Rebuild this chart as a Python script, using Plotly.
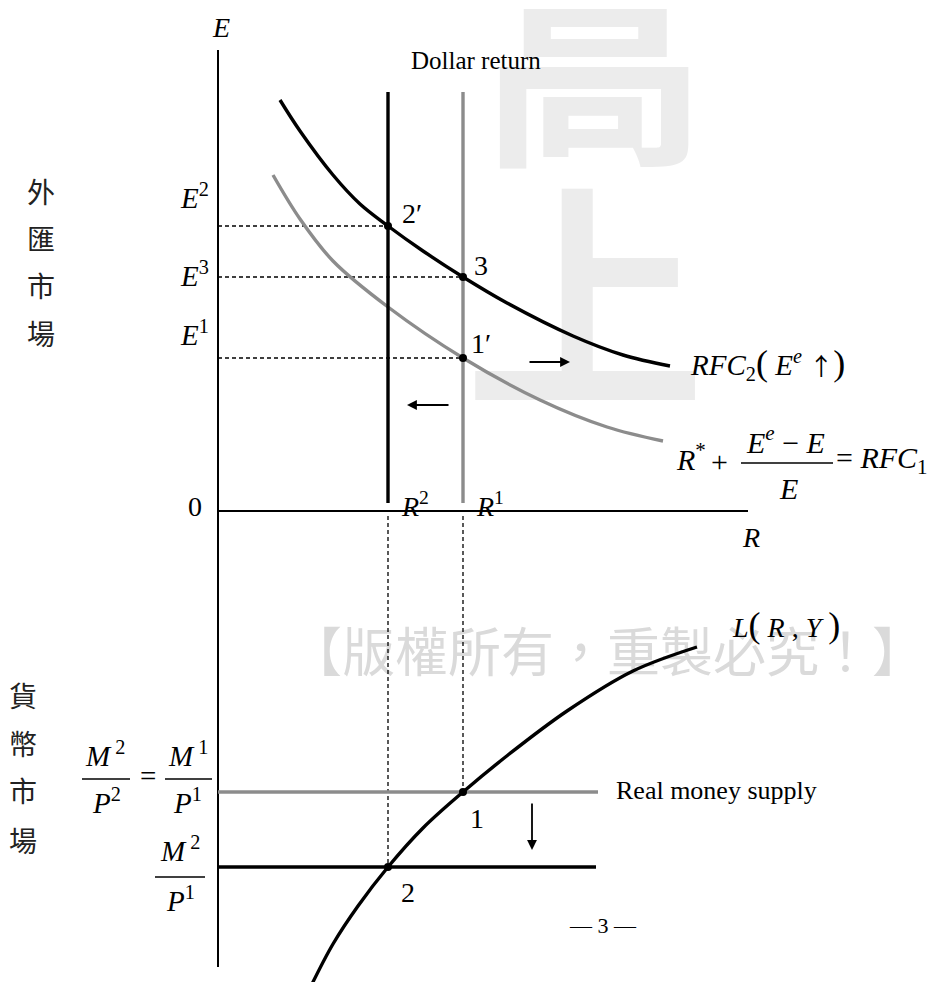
import plotly.graph_objects as go

# ---------------- data (model units) ----------------
# x : interest rate R ; y : exchange rate E (upper panel, positive)
#     and real money (lower panel, drawn downward as negative values)
R2, R1 = 1.70, 2.45                 # dollar returns
E2, E3, E1 = 2.85, 2.34, 1.53       # exchange rate levels
M1P1, M2P1 = -2.81, -3.56           # real money supply levels

rfc2_R = [0.62, 0.82, 1.15, 1.42, 1.70, 2.05, 2.45, 2.89, 3.55, 4.05, 4.52]
rfc2_E = [4.11, 3.80, 3.36, 3.07, 2.85, 2.60, 2.34, 2.08, 1.75, 1.56, 1.45]

rfc1_R = [0.55, 0.82, 1.15, 1.70, 2.45, 3.22, 3.89, 4.45]
rfc1_E = [3.36, 2.92, 2.50, 2.04, 1.53, 1.11, 0.84, 0.70]

L_R = [0.93, 1.15, 1.40, 1.70, 2.05, 2.45, 2.90, 3.49, 4.15, 4.79]
L_M = [-4.75, -4.33, -3.95, -3.56, -3.17, -2.81, -2.44, -2.00, -1.60, -1.36]

return_top, return_bottom = 4.19, 0.08
supply_end = [3.80, 3.78]           # right ends of M1/P1 and M2/P1 lines
axis_E_top, axis_M_bottom, axis_R_end = 4.61, -4.56, 5.30

points_R = [R2, R1, R1, R1, R2]
points_y = [E2, E3, E1, M1P1, M2P1]

# shift arrows: (tail_x, tail_y, head_x, head_y)
shift_arrows = [(3.10, 1.49, 3.52, 1.49),
                (2.32, 1.06, 1.89, 1.06),
                (3.14, -2.91, 3.14, -3.39)]

# ---------------- figure ----------------
W, H = 937, 982
PAGE = 8              # default body margin of the html page
X0, Y0 = 218, 511     # screen pixel position of the origin


def P(px, py):
    """screen pixel -> model units"""
    return (px - X0) / 100.0, (Y0 - py) / 100.0


BLACK = "#000000"
GRAY = "#8c8c8c"
SERIF = "Liberation Serif"
CJK = "Noto Sans CJK TC"

fig = go.Figure()

# watermarks (behind everything)
for ch, (px, py), size, col, wt in [
    ("高", (594, 92), 225, "#ececec", "bold"),
    ("上", (585, 330), 240, "#ececec", "bold"),
    ("【版權所有，重製必究！】", (607, 659), 53, "#dadada", "normal"),
]:
    x, y = P(px, py)
    fig.add_trace(go.Scatter(x=[x], y=[y], mode="text", text=[ch],
                             textposition="middle center", cliponaxis=False,
                             textfont=dict(family=CJK, size=size, color=col, weight=wt),
                             hoverinfo="skip"))

# axes
fig.add_trace(go.Scatter(x=[0, 0], y=[axis_E_top, axis_M_bottom], mode="lines",
                         line=dict(color=BLACK, width=2)))
fig.add_trace(go.Scatter(x=[0, axis_R_end], y=[0, 0], mode="lines",
                         line=dict(color=BLACK, width=2)))

# dashed guides
dash = dict(color=BLACK, width=1.3, dash="4px,3px")
for e, r in [(E2, R2), (E3, R1), (E1, R1)]:
    fig.add_trace(go.Scatter(x=[0, r], y=[e, e], mode="lines", line=dash))
for r, m in [(R2, M2P1), (R1, M1P1)]:
    fig.add_trace(go.Scatter(x=[r, r], y=[-0.05, m], mode="lines", line=dash))

# RFC curves
fig.add_trace(go.Scatter(x=rfc1_R, y=rfc1_E, mode="lines", line_shape="spline",
                         line=dict(color=GRAY, width=3.4)))
fig.add_trace(go.Scatter(x=rfc2_R, y=rfc2_E, mode="lines", line_shape="spline",
                         line=dict(color=BLACK, width=3.4)))

# dollar return verticals
fig.add_trace(go.Scatter(x=[R1, R1], y=[return_bottom, return_top], mode="lines",
                         line=dict(color=GRAY, width=3.4)))
fig.add_trace(go.Scatter(x=[R2, R2], y=[return_bottom, return_top], mode="lines",
                         line=dict(color=BLACK, width=3.4)))

# real money supply
fig.add_trace(go.Scatter(x=[0, supply_end[0]], y=[M1P1, M1P1], mode="lines",
                         line=dict(color=GRAY, width=3.4)))
fig.add_trace(go.Scatter(x=[0, supply_end[1]], y=[M2P1, M2P1], mode="lines",
                         line=dict(color=BLACK, width=3.4)))

# money demand
fig.add_trace(go.Scatter(x=L_R, y=L_M, mode="lines", line_shape="spline",
                         line=dict(color=BLACK, width=3.4)))

# equilibrium points
fig.add_trace(go.Scatter(x=points_R, y=points_y, mode="markers",
                         marker=dict(color=BLACK, size=8)))

# arrows
for tx, ty, hx, hy in shift_arrows:
    fig.add_annotation(x=hx, y=hy, ax=tx, ay=ty, axref="x", ayref="y",
                       xref="x", yref="y", text="", showarrow=True,
                       arrowhead=2, arrowsize=1.1, arrowwidth=1.8,
                       arrowcolor=BLACK)


def lab(px, py, text, size=26, xanchor="center", family=SERIF, color=BLACK):
    x, y = P(px, py)
    fig.add_annotation(x=x, y=y, text=text, showarrow=False, xanchor=xanchor,
                       yanchor="middle", font=dict(family=family, size=size, color=color))


def bar(px0, px1, py, width=1.5):
    x0, y0 = P(px0, py)
    x1, _ = P(px1, py)
    fig.add_shape(type="line", x0=x0, x1=x1, y0=y0, y1=y0, xref="x", yref="y",
                  line=dict(color=BLACK, width=width))


BIG = "<span style='font-size:36px'>%s</span>"
ARROW_UP = "<span style='font-family:Noto Sans CJK TC;font-size:24px'>↑</span>"

# upper panel labels
lab(221, 27, "<i>E</i>", 28)
lab(476, 60, "Dollar return", 25)
lab(412, 213, "2′", 28)
lab(481, 265, "3", 28)
lab(481, 343, "1′", 28)
lab(211, 196, "<i>E</i><sup>2</sup>", 29, xanchor="right")
lab(211, 274, "<i>E</i><sup>3</sup>", 29, xanchor="right")
lab(211, 333, "<i>E</i><sup>1</sup>", 29, xanchor="right")
lab(195, 506, "0", 28)
lab(399, 504, "<i>R</i><sup>2</sup>", 28, xanchor="left")
lab(474, 504, "<i>R</i><sup>1</sup>", 28, xanchor="left")
lab(751, 537, "<i>R</i>", 28)
lab(688, 364, "<i>RFC</i><sub>2</sub>" + BIG % "(" +
    " <i>E</i><sup><i>e</i></sup> " + ARROW_UP + BIG % ")",
    29, xanchor="left")

# RFC1 formula
lab(674, 457, "<i>R</i><sup>*</sup>", 30, xanchor="left")
lab(719, 461, "+", 30)
lab(785, 440, "<i>E</i><sup><i>e</i></sup> − <i>E</i>", 30)
bar(741, 833, 463)
lab(788, 488, "<i>E</i>", 30)
lab(834, 460, "= <i>RFC</i><sub>1</sub>", 30, xanchor="left")

# lower panel labels
lab(786, 625, "<i>L</i>" + BIG % "(" + " <i>R</i> , <i>Y</i> " + BIG % ")", 28)
lab(614, 790, "Real money supply", 26, xanchor="left")
lab(477, 818, "1", 28)
lab(408, 892, "2", 28)
lab(603, 925, "— 3 —", 22)

# M/P fractions
lab(105, 754, "<i>M</i><sup> 2</sup>", 29)
bar(82, 130, 779)
lab(106, 801, "<i>P</i><sup>2</sup>", 29)
lab(148, 776, "=", 29)
lab(188, 754, "<i>M</i><sup> 1</sup>", 29)
bar(165, 212, 779)
lab(187, 801, "<i>P</i><sup>1</sup>", 29)

lab(180, 849, "<i>M</i><sup> 2</sup>", 29)
bar(155, 205, 877)
lab(180, 899, "<i>P</i><sup>1</sup>", 29)

# side labels
for ch, py in zip("外匯市場", [191, 238, 285, 333]):
    lab(41, py, ch, 28, family=CJK, color="#222222")
for ch, py in zip("貨幣市場", [695, 743, 790, 840]):
    lab(23, py, ch, 28, family=CJK, color="#222222")

# axis ranges: figure pixel (0,0) sits at screen pixel (PAGE, PAGE)
xr0, yr_top = P(PAGE, PAGE)
xr1, yr_bot = P(PAGE + W, PAGE + H)
fig.update_layout(
    width=W, height=H, autosize=False,
    margin=dict(l=0, r=0, t=0, b=0, pad=0),
    paper_bgcolor="white", plot_bgcolor="white",
    showlegend=False,
    xaxis=dict(range=[xr0, xr1], visible=False, fixedrange=True),
    yaxis=dict(range=[yr_bot, yr_top], visible=False, fixedrange=True),
)

fig.write_html("out.html")
